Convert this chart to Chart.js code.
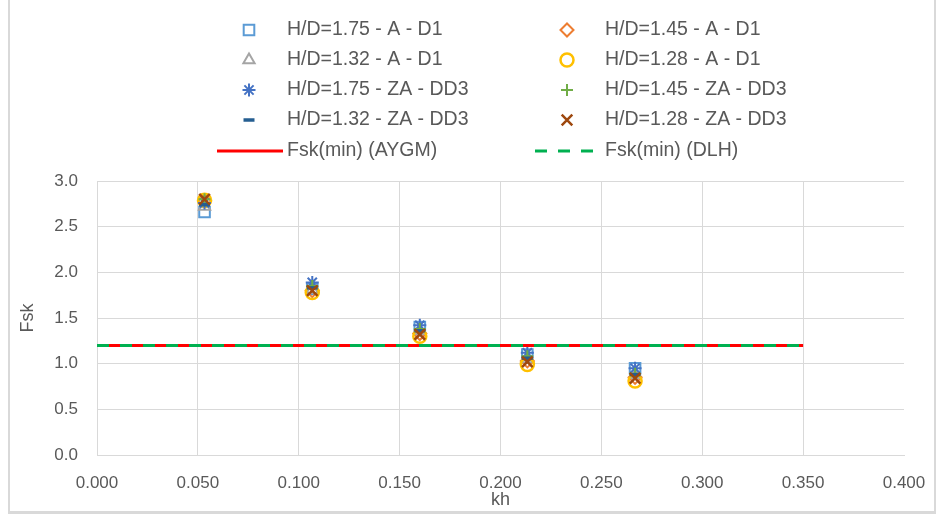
<!DOCTYPE html>
<html>
<head>
<meta charset="utf-8">
<title>Fsk vs kh</title>
<script src="https://cdn.jsdelivr.net/npm/chart.js@4.4.1/dist/chart.umd.min.js"></script>
<style>
    html, body { margin: 0; padding: 0; background: #ffffff; }
    #wrap { position: relative; width: 937px; height: 518px; }
    #frame {
        position: absolute; left: 8px; top: -2px; width: 924px; height: 513px;
        border-left: 2px solid #d9d9d9; border-right: 2px solid #d9d9d9; border-bottom: 3px solid #d9d9d9;
        pointer-events: none;
    }
</style>
</head>
<body>
<div id="wrap">
    <canvas id="fskChart" width="937" height="518"></canvas>
    <div id="frame"></div>
</div>
<script>
// --- Datos ---
const khValues = [0.0533, 0.1067, 0.1600, 0.2133, 0.2667];

const fsk175A = [2.66, 1.82, 1.40, 1.10, 0.95];
const fsk145A = [2.78, 1.80, 1.33, 1.03, 0.85];
const fsk132A = [2.72, 1.81, 1.36, 1.05, 0.88];
const fsk128A = [2.79, 1.78, 1.30, 0.99, 0.81];
const fsk175ZA = [2.76, 1.89, 1.42, 1.12, 0.95];
const fsk145ZA = [2.80, 1.85, 1.38, 1.08, 0.89];
const fsk132ZA = [2.74, 1.83, 1.36, 1.06, 0.88];
const fsk128ZA = [2.80, 1.80, 1.32, 1.02, 0.84];

const limitKh = [0, 0.35];
const fskMinAYGM = [1.2, 1.2];
const fskMinDLH = [1.2, 1.2];

const seriesLabels = [
    'H/D=1.75 - A - D1', 'H/D=1.45 - A - D1',
    'H/D=1.32 - A - D1', 'H/D=1.28 - A - D1',
    'H/D=1.75 - ZA - DD3', 'H/D=1.45 - ZA - DD3',
    'H/D=1.32 - ZA - DD3', 'H/D=1.28 - ZA - DD3',
    'Fsk(min) (AYGM)', 'Fsk(min) (DLH)'
];

const xTickLabels = ['0.000', '0.050', '0.100', '0.150', '0.200', '0.250', '0.300', '0.350', '0.400'];
const yTickLabels = ['0.0', '0.5', '1.0', '1.5', '2.0', '2.5', '3.0'];

const FONT = '"Liberation Sans", Arial, sans-serif';
const TEXT_COLOR = '#595959';
const GRID_COLOR = '#d9d9d9';

function toPoints(xs, ys) {
    return xs.map((x, i) => ({ x: x, y: ys[i] }));
}

function markerSet(label, values, style, color, radius, width) {
    return {
        label: label,
        data: toPoints(khValues, values),
        showLine: false,
        pointStyle: style,
        pointRadius: radius,
        pointHoverRadius: radius,
        pointBorderWidth: width,
        borderColor: color,
        backgroundColor: 'rgba(255,255,255,0)',
        pointBackgroundColor: 'rgba(255,255,255,0)'
    };
}

const datasets = [
    markerSet(seriesLabels[0], fsk175A, 'rect', '#5B9BD5', 7.5, 2),
    markerSet(seriesLabels[1], fsk145A, 'rectRot', '#ED7D31', 6.5, 2),
    markerSet(seriesLabels[2], fsk132A, 'triangle', '#A5A5A5', 6.5, 2),
    markerSet(seriesLabels[3], fsk128A, 'circle', '#FFC000', 6.5, 2.5),
    markerSet(seriesLabels[4], fsk175ZA, 'star', '#4472C4', 6.5, 2),
    markerSet(seriesLabels[5], fsk145ZA, 'cross', '#70AD47', 6, 2),
    markerSet(seriesLabels[6], fsk132ZA, 'line', '#255E91', 5.5, 3.5),
    markerSet(seriesLabels[7], fsk128ZA, 'crossRot', '#9E480E', 7.5, 2.5),
    {
        label: seriesLabels[8],
        data: toPoints(limitKh, fskMinAYGM),
        showLine: true,
        borderColor: '#FF0000',
        borderWidth: 3,
        pointRadius: 0,
        backgroundColor: '#FF0000'
    },
    {
        label: seriesLabels[9],
        data: toPoints(limitKh, fskMinDLH),
        showLine: true,
        borderColor: '#00B050',
        borderWidth: 3,
        borderDash: [12, 11],
        pointRadius: 0,
        backgroundColor: '#00B050'
    }
];

// como en Excel: la última serie queda encima
datasets.forEach((ds, i) => { ds.order = datasets.length - i; });

// --- Leyenda en dos columnas (dibujada en el canvas) ---
const gridLegend = {
    id: 'gridLegend',
    afterDraw(chart) {
        const ctx = chart.ctx;
        const textX = [287, 605];
        const rowY = [30, 60, 90, 120, 151];
        ctx.save();
        ctx.font = '19.5px ' + FONT;
        ctx.fillStyle = TEXT_COLOR;
        ctx.textBaseline = 'middle';
        chart.data.datasets.forEach((ds, i) => {
            const col = i % 2;
            const y = rowY[Math.floor(i / 2)];
            const tx = textX[col];
            if (ds.showLine) {
                ctx.save();
                ctx.strokeStyle = ds.borderColor;
                ctx.lineWidth = ds.borderWidth;
                ctx.setLineDash(ds.borderDash || []);
                ctx.beginPath();
                ctx.moveTo(tx - 70, y);
                ctx.lineTo(tx - 4, y);
                ctx.stroke();
                ctx.restore();
            } else {
                ctx.save();
                ctx.strokeStyle = ds.borderColor;
                ctx.fillStyle = 'rgba(255,255,255,0)';
                ctx.lineWidth = ds.pointBorderWidth;
                Chart.helpers.drawPoint(ctx, {
                    pointStyle: ds.pointStyle,
                    radius: ds.pointRadius,
                    borderWidth: ds.pointBorderWidth,
                    rotation: 0
                }, tx - 38, y);
                ctx.restore();
            }
            ctx.fillText(ds.label, tx, y);
        });
        ctx.restore();
    }
};

const chart = new Chart(document.getElementById('fskChart'), {
    type: 'scatter',
    data: { datasets: datasets },
    options: {
        responsive: false,
        animation: false,
        layout: { padding: { top: 181, left: 0, right: 33, bottom: 6 } },
        plugins: {
            legend: { display: false },
            tooltip: { enabled: false }
        },
        scales: {
            x: {
                type: 'linear',
                min: 0,
                max: 0.4,
                afterFit: s => {
                    s.height = 57;
                    s.paddingLeft = 0;
                    s.paddingRight = 0;
                },
                afterBuildTicks: s => {
                    s.ticks = xTickLabels.map(t => ({ value: parseFloat(t) }));
                },
                ticks: {
                    callback: (v, i) => xTickLabels[i],
                    color: TEXT_COLOR,
                    font: { size: 17, family: FONT },
                    padding: 18,
                    maxRotation: 0
                },
                grid: {
                    // sin línea vertical en el borde derecho
                    color: c => (c.index === xTickLabels.length - 1 ? 'rgba(0,0,0,0)' : GRID_COLOR),
                    drawTicks: false
                },
                border: { color: GRID_COLOR },
                title: {
                    display: true,
                    text: 'kh',
                    color: TEXT_COLOR,
                    font: { size: 18, family: FONT },
                    padding: { top: 0, bottom: 1 }
                }
            },
            y: {
                type: 'linear',
                min: 0,
                max: 3,
                afterFit: s => {
                    s.width = 97;
                    s.paddingTop = 0;
                    s.paddingBottom = 0;
                },
                afterBuildTicks: s => {
                    s.ticks = yTickLabels.map(t => ({ value: parseFloat(t) }));
                },
                ticks: {
                    callback: (v, i) => yTickLabels[i],
                    color: TEXT_COLOR,
                    font: { size: 17, family: FONT },
                    padding: 19
                },
                grid: { color: GRID_COLOR, drawTicks: false },
                border: { color: GRID_COLOR },
                title: {
                    display: true,
                    text: 'Fsk',
                    color: TEXT_COLOR,
                    font: { size: 18, family: FONT },
                    padding: { top: 17, bottom: 0 }
                }
            }
        }
    },
    plugins: [gridLegend]
});
</script>
</body>
</html>
